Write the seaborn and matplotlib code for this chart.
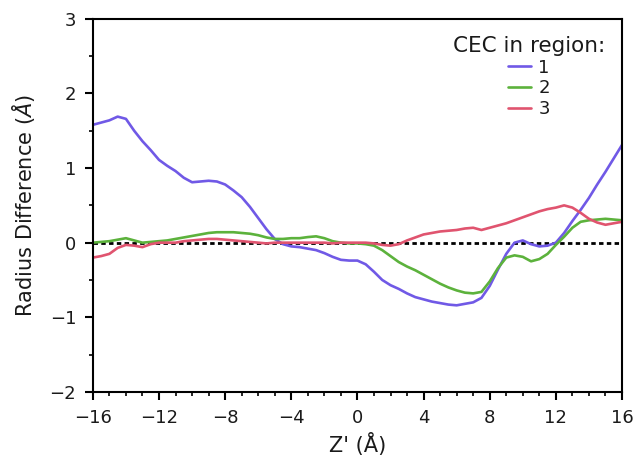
import numpy as np
import pandas as pd
import matplotlib
matplotlib.use('Agg')
import matplotlib.pyplot as plt
from matplotlib.ticker import MultipleLocator
import seaborn as sns

# Z' grid (Angstrom), 0.5 step
z = np.arange(-16, 16.01, 0.5)

region1 = [1.58, 1.61, 1.64, 1.69, 1.66, 1.50, 1.36, 1.24, 1.11, 1.03,
           0.96, 0.87, 0.81, 0.82, 0.83, 0.82, 0.78, 0.70, 0.61, 0.48,
           0.33, 0.18, 0.05, -0.02, -0.05, -0.06, -0.08, -0.10, -0.14, -0.19,
           -0.23, -0.24, -0.24, -0.29, -0.39, -0.50, -0.57, -0.62, -0.68, -0.73,
           -0.76, -0.79, -0.81, -0.83, -0.84, -0.82, -0.80, -0.74, -0.58, -0.36,
           -0.15, 0.00, 0.03, -0.02, -0.05, -0.04, 0.00, 0.13, 0.29, 0.44,
           0.60, 0.78, 0.95, 1.13, 1.31]

region2 = [0.00, 0.01, 0.02, 0.04, 0.06, 0.03, 0.00, 0.01, 0.02, 0.03,
           0.05, 0.07, 0.09, 0.11, 0.13, 0.14, 0.14, 0.14, 0.13, 0.12,
           0.10, 0.07, 0.05, 0.05, 0.06, 0.06, 0.075, 0.085, 0.06, 0.02,
           0.00, -0.01, -0.01, -0.02, -0.04, -0.10, -0.18, -0.26, -0.32, -0.37,
           -0.43, -0.49, -0.55, -0.60, -0.64, -0.67, -0.68, -0.66, -0.52, -0.34,
           -0.20, -0.17, -0.19, -0.25, -0.22, -0.15, -0.03, 0.08, 0.20, 0.28,
           0.30, 0.31, 0.32, 0.31, 0.30]

region3 = [-0.20, -0.18, -0.15, -0.07, -0.03, -0.04, -0.06, -0.02, 0.00, 0.00,
           0.00, 0.02, 0.03, 0.04, 0.05, 0.05, 0.04, 0.03, 0.02, 0.01,
           0.00, -0.01, 0.00, 0.00, 0.00, 0.00, 0.00, 0.00, 0.00, -0.01,
           0.00, 0.00, 0.00, 0.00, -0.01, -0.03, -0.04, -0.02, 0.03, 0.07,
           0.11, 0.13, 0.15, 0.16, 0.17, 0.19, 0.20, 0.17, 0.20, 0.23,
           0.26, 0.30, 0.34, 0.38, 0.42, 0.45, 0.47, 0.50, 0.47, 0.40,
           0.32, 0.27, 0.24, 0.26, 0.28]

labels = ['1', '2', '3']
colors = ['#7059e6', '#5cb23c', '#e0546f']

df = pd.concat([
    pd.DataFrame({'z': z, 'diff': vals, 'region': lab})
    for lab, vals in zip(labels, [region1, region2, region3])
])

sns.set_style('ticks')
plt.rcParams['font.family'] = ['DejaVu Sans']
plt.rcParams['text.color'] = '#1a1a1a'
plt.rcParams['axes.labelcolor'] = '#1a1a1a'
plt.rcParams['xtick.labelcolor'] = '#1a1a1a'
plt.rcParams['ytick.labelcolor'] = '#1a1a1a'

fig = plt.figure(figsize=(6.36, 4.61), dpi=100)
ax = fig.add_axes([0.146, 0.150, 0.832, 0.809])

ax.axhline(0, color='black', lw=2, dashes=(1.6, 1.2), zorder=1)
sns.lineplot(data=df, x='z', y='diff', hue='region', palette=colors,
             lw=1.9, ax=ax, zorder=2)

ax.set_xlim(-16, 16)
ax.set_ylim(-2, 3)
ax.xaxis.set_major_locator(MultipleLocator(4))
ax.xaxis.set_minor_locator(MultipleLocator(1))
ax.yaxis.set_major_locator(MultipleLocator(1))
ax.yaxis.set_minor_locator(MultipleLocator(0.5))
ax.tick_params(which='major', direction='out', length=6, width=1.5,
               labelsize=13, pad=6, color='black')
ax.tick_params(which='minor', direction='out', length=3, width=1.2,
               color='black')
for s in ax.spines.values():
    s.set_linewidth(1.5)
    s.set_color('black')

ax.set_xlabel("Z' (Å)", fontsize=15, labelpad=5)
ax.set_ylabel('Radius Difference ($\\AA$)', fontsize=15, labelpad=9)

ax.legend(title='CEC in region:', loc='upper right', frameon=False,
          fontsize=13, title_fontsize=15.5, handlelength=1.3,
          handletextpad=0.4, labelspacing=0.15, borderaxespad=0.55)

fig.savefig('out.png', dpi=100)
